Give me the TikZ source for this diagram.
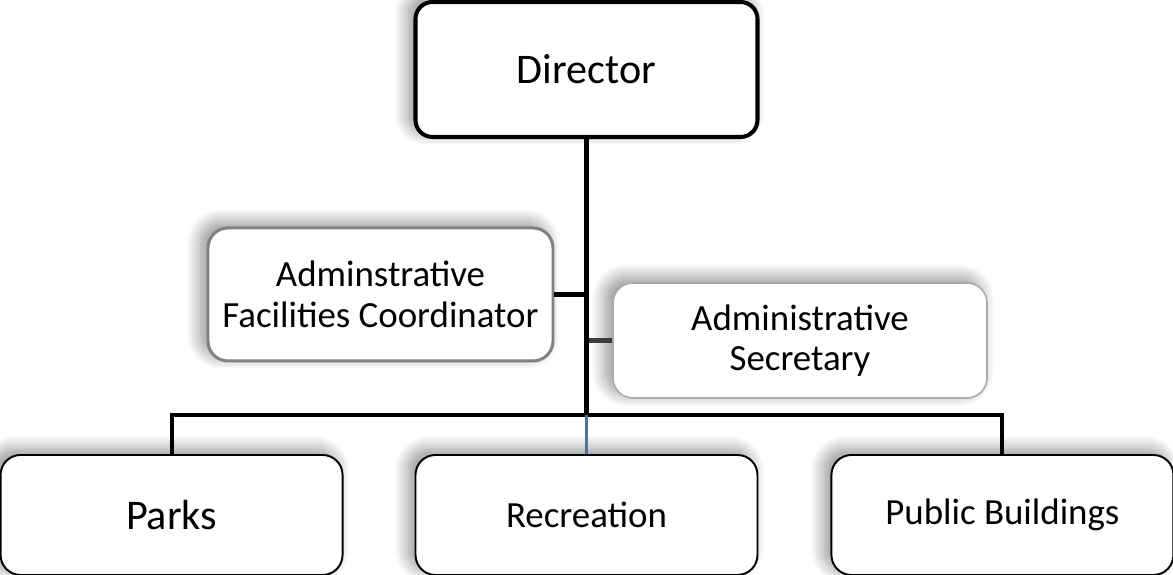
\documentclass[tikz,border=0pt]{standalone}
\usepackage{fontspec}
\setmainfont{Carlito}
\usepackage{tikz}
\usetikzlibrary{positioning,calc,shadows.blur}
\definecolor{staffgray}{RGB}{128,128,128}
\definecolor{secgray}{RGB}{170,170,170}
\definecolor{stubgray}{RGB}{60,60,60}
\definecolor{recblue}{RGB}{79,112,160}

\begin{document}
\begin{tikzpicture}[
        unit/.style={rectangle, rounded corners=0.4cm, draw=black, line width=1.1pt, fill=white,
            align=center, inner sep=0pt, minimum width=6.84cm, minimum height=2.4cm,
            font=\fontsize{21}{23}\selectfont,
            blur shadow={shadow xshift=-4pt, shadow yshift=3pt, shadow blur radius=8pt,
                shadow blur steps=25, shadow opacity=45}},
        head/.style={unit, line width=2.3pt, rounded corners=0.34cm, minimum height=2.7cm,
            font=\fontsize{24}{28}\selectfont},
        staff/.style={unit, draw=#1, minimum height=2.66cm},
        link/.style={line width=2.3pt}
    ]
        \useasboundingbox (0,0) rectangle (23.46,11.5);

        \node[head] (dir) at (11.73,10.11) {Director};
        \node[unit, below=6.3cm of dir] (rec) {Recreation};
        \node[unit, left=1.42cm of rec, font=\fontsize{24}{28}\selectfont] (parks) {Parks};
        \node[unit, right=1.44cm of rec] (pub) {Public Buildings};

        \node[staff=staffgray, line width=1.7pt, minimum width=6.9cm] (afc) at (7.61,5.61) {Adminstrative\\Facilities Coordinator};
        \node[staff=secgray, line width=0.9pt, minimum width=7.48cm, minimum height=2.3cm] (sec) at (16.0,4.69) {Administrative\\Secretary};

        \coordinate (hub) at (dir.south |- 0,3.2);
        \draw[link] (afc.east) -- (afc.east -| dir.south);
        \draw[link, stubgray] (sec.west) -- (sec.west -| dir.south);
        \draw[link] (hub) -| (parks.north);
        \draw[link] (hub) -| (pub.north);
        \draw[line width=2.2pt, recblue] (hub) -- (rec.north);
        \draw[line width=2.8pt] (dir.south) -- (hub);
    \end{tikzpicture}
\end{document}
